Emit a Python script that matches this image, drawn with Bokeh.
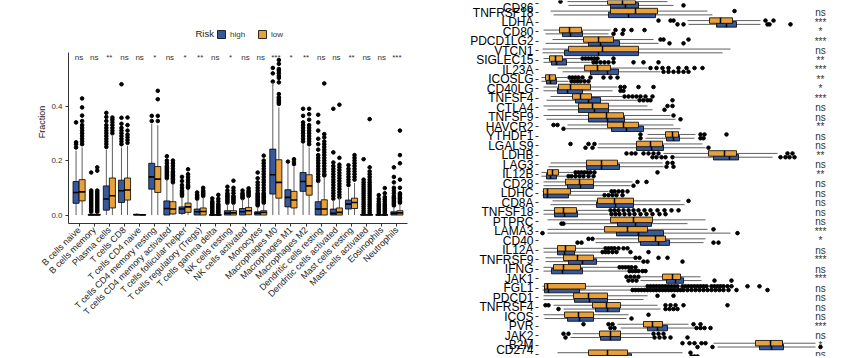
from bokeh.plotting import figure
from bokeh.models import (ColumnDataSource, FactorRange, Range1d, FixedTicker,
                          NumeralTickFormatter, Legend, LegendItem, Label)
from bokeh.transform import dodge
from bokeh.layouts import row
from bokeh.embed import file_html
from bokeh.resources import INLINE
from bokeh.core.properties import value

HIGH_COLOR = "#36589C"
LOW_COLOR = "#E8A03A"
FONT = "Liberation Sans"

# ---------------- left panel data (immune cell fractions) ----------------
cell_types = ["B cells naive", "B cells memory", "Plasma cells", "T cells CD8",
              "T cells CD4 naive", "T cells CD4 memory resting",
              "T cells CD4 memory activated", "T cells follicular helper",
              "T cells regulatory (Tregs)", "T cells gamma delta", "NK cells resting",
              "NK cells activated", "Monocytes", "Macrophages M0", "Macrophages M1",
              "Macrophages M2", "Dendritic cells resting", "Dendritic cells activated",
              "Mast cells resting", "Mast cells activated", "Eosinophils", "Neutrophils"]
cell_sig = ["ns", "ns", "**", "ns", "ns", "*", "ns", "*", "**", "ns", "*",
            "ns", "ns", "***", "*", "**", "ns", "ns", "**", "ns", "ns", "***"]

high_q1 = [0.043, 0.0, 0.018, 0.046, 0.0, 0.095, 0.0, 0.006, 0.0, 0.0, 0.0,
           0.0, 0.0, 0.077, 0.03, 0.087, 0.0, 0.0, 0.022, 0.0, 0.0, 0.0]
high_med = [0.083, 0.0, 0.059, 0.089, 0.001, 0.14, 0.024, 0.022, 0.012, 0.0, 0.007,
            0.012, 0.007, 0.148, 0.065, 0.123, 0.022, 0.006, 0.04, 0.0, 0.0, 0.006]
high_q3 = [0.123, 0.003, 0.107, 0.128, 0.003, 0.19, 0.052, 0.03, 0.022, 0.001, 0.016,
           0.024, 0.012, 0.242, 0.093, 0.156, 0.049, 0.022, 0.055, 0.002, 0.001, 0.012]
high_lo = [0.0, 0.0, 0.0, 0.0, 0.0, 0.0, 0.0, 0.0, 0.0, 0.0, 0.0,
           0.0, 0.0, 0.0, 0.0, 0.0, 0.0, 0.0, 0.0, 0.0, 0.0, 0.0]
high_hi = [0.236, 0.007, 0.24, 0.248, 0.006, 0.334, 0.13, 0.066, 0.055, 0.002, 0.04,
           0.058, 0.03, 0.487, 0.19, 0.26, 0.12, 0.055, 0.1, 0.004, 0.002, 0.03]
high_out = [
    [0.248, 0.26, 0.267, 0.34],
    [0.012, 0.018, 0.024, 0.03, 0.036, 0.042, 0.048, 0.054, 0.06, 0.066, 0.072, 0.078, 0.084, 0.09, 0.156],
    [0.25, 0.26, 0.27, 0.28, 0.29, 0.30, 0.31, 0.32, 0.33, 0.345, 0.36, 0.375],
    [0.26, 0.27, 0.28, 0.29, 0.30, 0.31, 0.32, 0.335, 0.357, 0.48],
    [],
    [0.345, 0.364],
    [0.135, 0.14, 0.145, 0.15, 0.155, 0.16, 0.165, 0.17, 0.175, 0.18, 0.19, 0.2, 0.216],
    [0.07, 0.075, 0.08, 0.085, 0.09, 0.1, 0.11, 0.125, 0.14],
    [0.06, 0.065, 0.07, 0.075, 0.083],
    [0.005, 0.01, 0.015, 0.02, 0.025, 0.03, 0.035, 0.04, 0.045, 0.05, 0.061],
    [0.045, 0.05, 0.055, 0.06, 0.065, 0.07, 0.075, 0.08, 0.09, 0.104],
    [0.062, 0.066, 0.07, 0.075, 0.08, 0.09],
    [0.035, 0.04, 0.045, 0.05, 0.055, 0.06, 0.065, 0.07, 0.075, 0.08, 0.09, 0.1, 0.11, 0.12, 0.135, 0.156],
    [0.49, 0.52, 0.54],
    [0.196],
    [0.27, 0.28, 0.29, 0.30, 0.31, 0.32, 0.33, 0.34, 0.364, 0.39],
    [0.125, 0.13, 0.14, 0.15, 0.16, 0.17, 0.18, 0.19, 0.2, 0.21, 0.22, 0.24, 0.26, 0.28, 0.31, 0.34, 0.368],
    [0.06, 0.07, 0.08, 0.09, 0.1, 0.11, 0.12, 0.13, 0.14, 0.15, 0.16, 0.17, 0.18, 0.193, 0.23, 0.39],
    [0.11, 0.12, 0.13, 0.14, 0.15, 0.16, 0.17, 0.183],
    [0.008, 0.016, 0.024, 0.032, 0.04, 0.048, 0.056, 0.064, 0.072, 0.08, 0.088, 0.096, 0.104, 0.112, 0.12, 0.13, 0.205],
    [0.006, 0.012, 0.018, 0.024, 0.03, 0.036, 0.042, 0.05, 0.06, 0.073],
    [0.035, 0.04, 0.045, 0.05, 0.055, 0.06, 0.065, 0.07, 0.08, 0.09, 0.1, 0.12, 0.14, 0.175],
]

low_q1 = [0.052, 0.0, 0.026, 0.055, 0.0, 0.083, 0.004, 0.01, 0.0, 0.0, 0.0,
          0.001, 0.0, 0.062, 0.026, 0.073, 0.0, 0.0, 0.024, 0.0, 0.0, 0.0]
low_med = [0.085, 0.0, 0.071, 0.092, 0.0, 0.132, 0.022, 0.03, 0.013, 0.0, 0.008,
           0.016, 0.01, 0.12, 0.055, 0.107, 0.022, 0.01, 0.046, 0.0, 0.0, 0.008]
low_q3 = [0.13, 0.003, 0.136, 0.136, 0.002, 0.178, 0.049, 0.044, 0.026, 0.001, 0.016,
          0.028, 0.016, 0.203, 0.087, 0.148, 0.056, 0.026, 0.062, 0.002, 0.001, 0.016]
low_lo = [0.0, 0.0, 0.0, 0.0, 0.0, 0.0, 0.0, 0.0, 0.0, 0.0, 0.0,
          0.0, 0.0, 0.0, 0.0, 0.0, 0.0, 0.0, 0.0, 0.0, 0.0, 0.0]
low_hi = [0.248, 0.007, 0.29, 0.254, 0.004, 0.33, 0.115, 0.095, 0.065, 0.002, 0.04,
          0.065, 0.04, 0.395, 0.178, 0.248, 0.14, 0.065, 0.118, 0.004, 0.002, 0.04]
low_out = [
    [0.26, 0.27, 0.28, 0.29, 0.30, 0.31, 0.32, 0.33, 0.345, 0.365, 0.395, 0.428],
    [0.012, 0.018, 0.024, 0.03, 0.036, 0.042, 0.048, 0.054, 0.06, 0.066, 0.072, 0.078, 0.084, 0.09, 0.163, 0.175],
    [0.30, 0.31, 0.32, 0.33, 0.34, 0.35, 0.358],
    [0.265, 0.275, 0.285, 0.295, 0.31, 0.33, 0.358],
    [],
    [0.345, 0.364, 0.425, 0.456],
    [0.12, 0.125, 0.13, 0.135, 0.14, 0.145, 0.15, 0.155, 0.16, 0.17, 0.18, 0.19, 0.2],
    [0.1, 0.105, 0.11, 0.12, 0.13, 0.14, 0.15, 0.168],
    [0.07, 0.075, 0.08, 0.085, 0.09, 0.1],
    [0.005, 0.01, 0.015, 0.02, 0.025, 0.03, 0.035, 0.04, 0.05, 0.06, 0.074],
    [0.045, 0.05, 0.055, 0.06, 0.065, 0.07, 0.08, 0.09, 0.1, 0.126],
    [0.07, 0.075, 0.08, 0.085, 0.09, 0.098],
    [0.045, 0.05, 0.055, 0.06, 0.065, 0.07, 0.075, 0.08, 0.09, 0.1, 0.11, 0.12, 0.13, 0.14, 0.15, 0.16, 0.17, 0.18, 0.19, 0.2, 0.218],
    [0.408, 0.414, 0.42, 0.426, 0.432, 0.444, 0.487, 0.503, 0.51, 0.52, 0.53, 0.536, 0.555, 0.569],
    [0.187, 0.195, 0.205],
    [0.26, 0.27, 0.28, 0.29, 0.30, 0.31, 0.32, 0.33, 0.35, 0.37, 0.39],
    [0.145, 0.15, 0.16, 0.17, 0.18, 0.19, 0.2, 0.21, 0.22, 0.23, 0.24, 0.25, 0.26, 0.27, 0.285, 0.297, 0.483],
    [0.065, 0.075, 0.085, 0.095, 0.105, 0.115, 0.125, 0.135, 0.145, 0.155, 0.165, 0.175, 0.185, 0.21, 0.405],
    [0.13, 0.14, 0.15, 0.16, 0.17, 0.18, 0.19, 0.2, 0.21, 0.22],
    [0.008, 0.016, 0.024, 0.032, 0.04, 0.048, 0.056, 0.064, 0.072, 0.08, 0.088, 0.096, 0.104, 0.112, 0.12, 0.13, 0.14, 0.15, 0.16, 0.175, 0.352],
    [0.006, 0.012, 0.018, 0.024, 0.03, 0.036, 0.042, 0.05, 0.058, 0.066, 0.08, 0.099],
    [0.045, 0.05, 0.055, 0.06, 0.065, 0.07, 0.075, 0.08, 0.1, 0.13, 0.19, 0.22, 0.31],
]

# ---------------- right panel data (gene expression) ----------------
genes = ["CD86", "TNFRSF18", "LDHA", "CD80", "PDCD1LG2", "VTCN1", "SIGLEC15", "IL23A",
         "ICOSLG", "CD40LG", "TNFSF4", "CTLA4", "TNFSF9", "HAVCR2", "YTHDF1", "LGALS9",
         "LDHB", "LAG3", "IL12B", "CD28", "LDHC", "CD8A", "TNFSF18", "PTPRC", "LAMA3",
         "CD40", "IL12A", "TNFRSF9", "IFNG", "JAK1", "FGL1", "PDCD1", "TNFRSF4", "ICOS",
         "PVR", "JAK2", "B2M", "CD274"]
gene_sig = ["", "ns", "***", "*", "***", "ns", "**", "***", "**", "*", "***", "ns",
            "ns", "**", "ns", "ns", "**", "ns", "**", "ns", "ns", "ns", "ns", "ns",
            "***", "*", "ns", "***", "ns", "***", "ns", "ns", "ns", "ns", "***", "ns",
            "*", "ns"]

g_low_q1 = [6.9, 7.2, 17.1, 2.1, 4.5, 3.0, 1.1, 4.6, 0.7, 2.0, 3.4, 4.0, 5.0, 6.9, 12.7,
            9.8, 17.0, 4.8, 0.9, 2.7, 0.5, 5.9, 1.6, 7.2, 6.6, 10.0, 1.9, 2.5, 1.5, 12.4,
            0.6, 3.5, 5.4, 2.6, 10.5, 6.1, 21.7, 5.0]
g_low_med = [8.4, 9.7, 18.2, 3.1, 6.0, 6.4, 1.7, 5.9, 1.1, 3.2, 4.2, 5.4, 6.8, 8.5, 13.4,
             11.2, 18.6, 6.3, 1.4, 4.1, 0.9, 7.6, 2.5, 9.5, 8.9, 11.7, 2.7, 3.9, 2.5, 13.4,
             0.9, 5.0, 6.8, 4.0, 11.4, 7.2, 23.2, 6.9]
g_low_q3 = [9.7, 11.9, 19.4, 4.3, 7.5, 10.0, 2.4, 7.2, 1.7, 5.2, 5.3, 7.0, 8.5, 10.0, 14.0,
            12.4, 19.8, 7.9, 2.0, 5.5, 3.2, 9.5, 3.8, 11.4, 10.9, 12.7, 3.7, 5.5, 4.2, 14.2,
            4.7, 6.9, 8.2, 5.5, 12.4, 8.2, 24.4, 8.9]
g_low_lo = [2.9, 1.2, 14.9, 0.5, 1.4, 0.4, 0.5, 1.9, 0.3, 0.5, 1.2, 0.5, 0.5, 2.9, 10.9,
            6.0, 12.5, 1.2, 0.3, 0.5, 0.4, 1.4, 0.5, 0.9, 0.9, 5.7, 0.5, 0.7, 0.5, 10.2,
            0.4, 0.5, 1.5, 0.5, 7.9, 3.4, 17.5, 1.9]
g_low_hi = [12.9, 16.9, 22.2, 7.2, 11.5, 19.2, 4.2, 10.9, 2.9, 7.9, 8.4, 10.9, 13.2, 13.5,
            15.7, 16.4, 23.9, 12.4, 3.5, 9.4, 7.0, 14.2, 7.0, 16.7, 16.9, 16.7, 6.5, 9.5,
            7.9, 16.2, 10.7, 10.9, 11.9, 9.0, 15.0, 11.2, 27.7, 14.4]
g_low_out = [
    [2.2], [19.6], [12.0, 13.2, 13.5, 22.7, 23.5], [7.7, 8.5, 9.3, 10.6],
    [12.2, 12.5, 15.0], [], [4.4, 4.7, 5.0, 5.3, 5.6, 5.9, 7.5],
    [11.2, 11.8, 12.4, 13.0, 14.0, 14.8, 15.6, 16.4],
    [3.1, 3.4, 3.7, 4.0, 4.4, 5.2, 6.5, 7.2, 7.9], [8.2, 8.6, 10.0, 11.5],
    [8.6, 9.0, 9.4, 9.8, 10.2, 10.7, 11.4], [12.9, 13.4], [13.5], [1.5, 1.9],
    [10.2, 16.2, 16.6, 18.8], [3.2, 5.0, 5.6],
    [8.8, 9.3, 9.7, 10.5, 11.0, 11.5, 12.0, 24.9, 25.4], [12.9, 13.4],
    [3.7, 4.0, 4.3, 4.6, 4.9, 5.2, 5.6, 11.9], [9.9, 10.8], [7.3, 7.6, 8.0, 8.4, 8.9],
    [15.0], [7.2, 7.6, 8.0, 8.5, 9.0, 9.5, 10.0, 10.6, 11.2, 11.9, 12.6, 13.3, 14.0],
    [], [17.5], [5.0, 5.4], [6.7, 7.0, 7.3, 7.6, 8.0, 8.5, 8.9], [9.7, 10.1, 12.0, 12.9],
    [8.1, 8.4, 8.7, 9.0, 9.3, 9.7], [8.8, 9.2, 9.6, 10.0],
    [10.9, 11.2, 11.5, 11.8, 12.1, 12.4, 12.7, 13.0, 13.3, 13.6, 13.9, 14.4, 14.7, 15.0,
     15.3, 15.6, 15.9, 16.2, 16.5, 16.8, 17.3, 17.6, 17.9, 18.2, 18.5, 18.9, 19.3, 20.9, 22.1],
    [11.9, 13.5], [0.7, 1.0, 12.7, 13.2, 13.7, 14.5, 18.9], [11.0],
    [4.5, 7.0, 7.4, 15.5, 16.2], [2.5, 3.0, 11.5, 12.0, 12.5],
    [14.4, 15.1, 15.6, 16.3, 16.7], [15.2],
]

g_high_q1 = [7.2, 7.0, 17.8, 2.4, 5.0, 2.6, 1.3, 5.2, 0.8, 1.9, 3.7, 4.0, 5.0, 7.3, 12.8,
             9.8, 17.5, 4.8, 0.8, 2.9, 0.5, 5.8, 1.6, 7.9, 7.8, 10.2, 1.9, 3.0, 1.3, 12.8,
             0.6, 3.6, 5.7, 2.9, 10.9, 6.2, 22.1, 5.3]
g_high_med = [8.7, 9.0, 18.8, 3.2, 6.2, 6.0, 1.8, 6.9, 1.2, 2.9, 5.0, 5.6, 6.9, 8.8, 13.5,
              11.3, 19.1, 6.3, 1.2, 4.2, 0.9, 7.7, 2.6, 9.7, 10.0, 12.0, 2.6, 4.4, 2.4, 13.7,
              1.0, 5.1, 6.9, 4.1, 11.9, 7.2, 23.3, 7.1]
g_high_q3 = [10.0, 11.7, 19.8, 4.4, 8.1, 10.0, 2.8, 8.0, 1.8, 4.4, 6.2, 7.0, 8.6, 10.5, 14.1,
             12.5, 20.0, 8.1, 1.8, 5.5, 3.0, 9.5, 3.9, 11.3, 12.5, 13.1, 3.6, 5.8, 4.4, 14.5,
             4.1, 6.9, 8.1, 5.5, 12.9, 8.2, 24.5, 9.3]
g_high_lo = [3.0, 1.5, 15.0, 0.7, 0.7, 0.4, 0.5, 2.4, 0.3, 0.5, 0.8, 0.9, 0.8, 2.7, 10.7,
             5.9, 13.5, 1.0, 0.3, 0.5, 0.4, 1.2, 0.5, 2.7, 0.9, 5.7, 0.5, 0.7, 0.5, 10.2,
             0.4, 0.5, 2.5, 0.6, 8.2, 3.2, 17.9, 1.9]
g_high_hi = [13.5, 17.4, 22.2, 7.0, 12.0, 18.4, 5.2, 12.2, 3.0, 7.4, 9.9, 11.4, 13.7, 14.2,
             15.6, 16.7, 23.4, 12.5, 2.8, 9.2, 6.4, 14.6, 7.0, 14.9, 19.2, 16.5, 6.2, 10.2,
             8.9, 16.3, 9.2, 10.5, 12.2, 8.8, 15.6, 11.4, 27.7, 14.9]
g_high_out = [
    [14.5], [], [13.9, 14.5, 22.9, 23.1, 25.2], [7.5, 8.4], [13.1, 14.5], [],
    [5.5, 5.8, 6.2, 6.6, 7.0, 7.5, 9.5, 10.5, 12.0], [12.5, 13.0, 13.5, 14.0, 14.5, 15.0],
    [3.3, 3.6, 3.9, 4.2, 4.6, 5.0], [8.2, 8.5], [10.1, 10.5, 10.9, 11.2, 13.4], [12.6],
    [14.2], [2.5], [10.2, 16.2, 16.5], [4.7, 5.4, 17.0],
    [11.4, 11.8, 12.3, 12.7, 13.4, 24.2, 24.7, 25.1, 25.6], [12.8, 13.5],
    [3.0, 3.3, 3.7, 4.1, 4.5, 5.0, 5.5], [9.5], [6.6, 7.0, 7.4, 7.8, 8.4], [],
    [7.3, 7.7, 8.1, 8.6, 9.1, 9.6, 10.2, 10.8, 11.4, 12.1, 12.7], [2.3, 2.5],
    [0.4, 19.9], [3.9, 4.3, 17.5, 18.0], [6.4, 6.7, 7.0, 7.4, 7.8, 9.2, 11.0],
    [10.5, 10.9, 14.4], [9.1, 9.4, 9.7, 10.0, 10.4, 10.7], [9.0, 9.4, 9.8, 17.6, 19.3],
    [9.4, 9.7, 10.0, 10.3, 10.6, 10.9, 11.2, 11.5, 11.8, 12.1, 12.4, 12.7, 13.0, 13.3,
     13.6, 13.9, 14.2, 14.5, 14.9, 15.3, 15.7, 16.1, 16.5, 16.9, 17.3, 17.7, 18.1, 18.5,
     19.0, 19.8, 22.9],
    [], [2.0, 12.7, 13.1, 13.5, 13.9], [9.3], [7.2, 7.6, 15.8, 16.2, 16.6, 17.2],
    [2.7, 11.6, 12.1, 12.6, 13.2, 14.9], [15.9, 17.4, 28.2], [15.3, 15.6, 15.9],
]


def flatten(keys, groups):
    ks, vs = [], []
    for k, vals in zip(keys, groups):
        for v in vals:
            ks.append(k)
            vs.append(v)
    return ks, vs


WHISKER = "#5f5f5f"
Y_MIN, Y_AXIS_TOP = -0.031, 0.597

# =================== LEFT FIGURE ===================
# frame extends above the axis so that the legend sits inside it (not clipped)
p1 = figure(width=430, height=356, output_backend="svg", toolbar_location=None,
            x_range=FactorRange(factors=cell_types, range_padding=0.2,
                                range_padding_units="absolute"),
            y_range=Range1d(Y_MIN, 0.714),
            min_border_left=68, min_border_right=23, min_border_top=20,
            min_border_bottom=133)
p1.outline_line_color = None
p1.xgrid.visible = False
p1.ygrid.visible = False
p1.background_fill_color = "white"

box_renderers = {}
for grp, off, color, q1, med, q3, lo, hi, outs in [
        ("high", -0.2, HIGH_COLOR, high_q1, high_med, high_q3, high_lo, high_hi, high_out),
        ("low", 0.2, LOW_COLOR, low_q1, low_med, low_q3, low_lo, low_hi, low_out)]:
    src = ColumnDataSource(dict(cat=cell_types, q1=q1, med=med, q3=q3, lo=lo, hi=hi))
    oc, ov = flatten(cell_types, outs)
    osrc = ColumnDataSource(dict(cat=oc, val=ov))
    p1.scatter(x=dodge("cat", off, range=p1.x_range), y="val", source=osrc,
               size=3.6, color="black")
    p1.segment(x0=dodge("cat", off, range=p1.x_range), y0="lo",
               x1=dodge("cat", off, range=p1.x_range), y1="hi", source=src,
               line_color=WHISKER, line_width=1)
    r = p1.vbar(x=dodge("cat", off, range=p1.x_range), bottom="q1", top="q3",
                width=0.4, source=src, fill_color=color, line_color="black",
                line_width=0.8)
    p1.segment(x0=dodge("cat", off - 0.2, range=p1.x_range), y0="med",
               x1=dodge("cat", off + 0.2, range=p1.x_range), y1="med", source=src,
               line_color="black", line_width=1.6)
    box_renderers[grp] = r

sig_src = ColumnDataSource(dict(cat=cell_types, sig=cell_sig))
p1.text(x="cat", y=0.578, text="sig", source=sig_src, text_align="center",
        text_baseline="middle", text_font=value(FONT), text_font_size="8px",
        text_color="#333333")

p1.yaxis.ticker = FixedTicker(ticks=[0.0, 0.2, 0.4])
p1.yaxis.formatter = NumeralTickFormatter(format="0.0")
p1.yaxis.bounds = (Y_MIN, Y_AXIS_TOP)
p1.yaxis.axis_label = "Fraction"
p1.yaxis.axis_label_text_font = FONT
p1.yaxis.axis_label_text_font_size = "9px"
p1.yaxis.axis_label_text_font_style = "normal"
p1.yaxis.axis_label_text_color = "#222222"
p1.yaxis.axis_label_standoff = 1
p1.yaxis.major_label_standoff = 3
for ax in (p1.xaxis[0], p1.yaxis[0]):
    ax.axis_line_color = "#333333"
    ax.axis_line_width = 1
    ax.major_tick_line_color = "#333333"
    ax.major_tick_out = 3
    ax.major_tick_in = 0
    ax.minor_tick_line_color = None
    ax.major_label_text_font = FONT
    ax.major_label_text_color = "#333333"
p1.yaxis.major_label_text_font_size = "8px"
p1.xaxis.major_label_text_font_size = "9px"
p1.xaxis.major_label_orientation = 0.785398
p1.xaxis.major_label_standoff = 2
p1.xaxis.major_label_text_color = "#1a1a1a"

legend = Legend(items=[LegendItem(label="high", renderers=[box_renderers["high"]]),
                       LegendItem(label="low", renderers=[box_renderers["low"]])],
                location=(148, 184), orientation="horizontal")
legend.background_fill_alpha = 0
legend.border_line_color = None
legend.glyph_width = 10
legend.glyph_height = 10
legend.label_text_font = FONT
legend.label_text_font_size = "8px"
legend.label_text_color = "#333333"
legend.label_standoff = 4
legend.spacing = 7
legend.padding = 2
legend.margin = 0
p1.add_layout(legend)
p1.add_layout(Label(x=127, y=190.5, x_units="screen", y_units="screen", text="Risk",
                    text_font=FONT, text_font_size="9.5px", text_baseline="middle",
                    text_align="left", text_color="#222222"))

# =================== RIGHT FIGURE ===================
gene_pos = list(range(len(genes)))
p2 = figure(width=408, height=356, output_backend="svg", toolbar_location=None,
            x_range=Range1d(0, 30.0), y_range=Range1d(37.2, -0.316),
            x_axis_location=None,
            min_border_left=108, min_border_right=0, min_border_top=0,
            min_border_bottom=0)
p2.outline_line_color = None
p2.xgrid.visible = False
p2.ygrid.visible = False

DY = 0.2
BH = 0.58
low_src = ColumnDataSource(dict(pos=gene_pos, q1=g_low_q1, med=g_low_med, q3=g_low_q3,
                                lo=g_low_lo, hi=g_low_hi))
high_src = ColumnDataSource(dict(pos=gene_pos, q1=g_high_q1, med=g_high_med, q3=g_high_q3,
                                 lo=g_high_lo, hi=g_high_hi))
lp, lv = flatten(gene_pos, g_low_out)
hp, hv = flatten(gene_pos, g_high_out)
low_osrc = ColumnDataSource(dict(pos=lp, val=lv))
high_osrc = ColumnDataSource(dict(pos=hp, val=hv))

p2.scatter(x="val", y=dodge("pos", DY), source=high_osrc, size=3.6, color="black")
p2.scatter(x="val", y=dodge("pos", -DY), source=low_osrc, size=3.6, color="black")
p2.segment(x0="lo", x1="hi", y0=dodge("pos", DY), y1=dodge("pos", DY), source=high_src,
           line_color=WHISKER, line_width=1)
p2.segment(x0="lo", x1="hi", y0=dodge("pos", -DY), y1=dodge("pos", -DY), source=low_src,
           line_color=WHISKER, line_width=1)
p2.hbar(y=dodge("pos", DY), left="q1", right="q3", height=BH, source=high_src,
        fill_color=HIGH_COLOR, line_color="black", line_width=0.8)
p2.segment(x0="med", x1="med", y0=dodge("pos", DY - BH / 2), y1=dodge("pos", DY + BH / 2),
           source=high_src, line_color="black", line_width=1.5)
p2.hbar(y=dodge("pos", -DY), left="q1", right="q3", height=BH, source=low_src,
        fill_color=LOW_COLOR, line_color="black", line_width=0.8)
p2.segment(x0="med", x1="med", y0=dodge("pos", -DY - BH / 2), y1=dodge("pos", -DY + BH / 2),
           source=low_src, line_color="black", line_width=1.5)

gsig_src = ColumnDataSource(dict(pos=gene_pos, sig=gene_sig))
p2.text(x=28.2, y="pos", text="sig", source=gsig_src, text_align="center",
        text_baseline="middle", text_font=value(FONT), text_font_size="10px",
        text_color="#333333")

p2.yaxis.ticker = FixedTicker(ticks=gene_pos)
p2.yaxis.major_label_overrides = {i: g for i, g in zip(gene_pos, genes)}
p2.yaxis.axis_line_color = None
p2.yaxis.major_tick_line_color = "#333333"
p2.yaxis.major_tick_out = 3
p2.yaxis.major_tick_in = 0
p2.yaxis.minor_tick_line_color = None
p2.yaxis.major_label_standoff = 2
p2.yaxis.major_label_text_font = FONT
p2.yaxis.major_label_text_font_size = "12px"
p2.yaxis.major_label_text_color = "black"

for fig in (p1, p2):
    if "frame_align" in fig.properties():
        fig.frame_align = False

layout = row(p1, p2)
open("out.html", "w").write(file_html(layout, INLINE))
